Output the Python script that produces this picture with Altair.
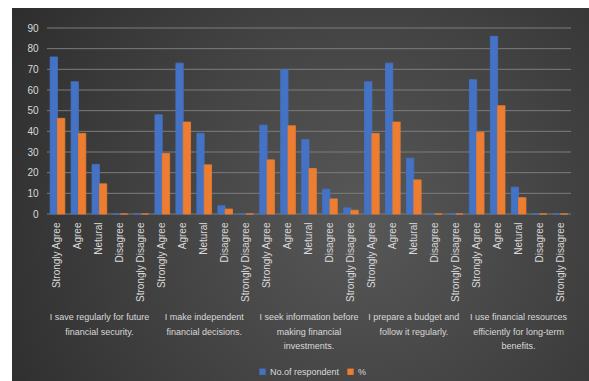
import altair as alt
import pandas as pd

FONT = "Liberation Sans"

groups = [
    "I save regularly for future\nfinancial security.",
    "I make independent\nfinancial decisions.",
    "I seek information before\nmaking financial\ninvestments.",
    "I prepare a budget and\nfollow it regularly.",
    "I use financial resources\nefficiently for long-term\nbenefits.",
]
categories = ["Strongly Agree", "Agree", "Netural", "Disagree", "Strongly Disagree"]
series = ["No.of respondent", "%"]
respondents = [
    [76, 64, 24, 0, 0],
    [48, 73, 39, 4, 0],
    [43, 70, 36, 12, 3],
    [64, 73, 27, 0, 0],
    [65, 86, 13, 0, 0],
]
percent = [
    [46.3, 39.0, 14.6, 0, 0],
    [29.3, 44.5, 23.8, 2.4, 0],
    [26.2, 42.7, 22.0, 7.3, 1.8],
    [39.0, 44.5, 16.5, 0, 0],
    [39.6, 52.4, 7.9, 0, 0],
]
y_ticks = [0, 10, 20, 30, 40, 50, 60, 70, 80, 90]
colors = ["#4472C4", "#ED7D31"]

rows, keys = [], []
for gi, g in enumerate(groups):
    for ci, c in enumerate(categories):
        k = f"{gi}|{c}"
        keys.append(k)
        rows.append({"key": k, "series": series[0], "value": respondents[gi][ci]})
        rows.append({"key": k, "series": series[1], "value": percent[gi][ci]})
df = pd.DataFrame(rows)
glab = pd.DataFrame({"key": [f"{gi}|{categories[2]}" for gi in range(len(groups))],
                     "label": groups})

xscale = alt.Scale(domain=keys, paddingInner=0.3, paddingOuter=0.15)
xaxis = alt.Axis(labelExpr="split(datum.label, '|')[1]", labelAngle=-90, title=None,
                 domain=False, ticks=False, labelPadding=8, labelFontSize=10,
                 labelColor="#d9d9d9", labelFont=FONT, zindex=1)
yscale = alt.Scale(domain=[0, 90])
yaxis = alt.Axis(values=y_ticks, title=None, grid=False, domain=False, ticks=False,
                 labelPadding=9, labelFontSize=10, labelColor="#d9d9d9",
                 labelFont=FONT, zindex=1)

one = pd.DataFrame({"a": [0]})
bg = alt.Chart(one).mark_rect(
    fill=alt.RadialGradient(
        gradient="radial",
        stops=[alt.GradientStop(color="#585858", offset=0),
               alt.GradientStop(color="#262626", offset=1)],
        x1=0.55, y1=0.5, x2=0.55, y2=0.5, r1=0, r2=0.75,
    )
).encode(x=alt.value(-35), x2=alt.value(600), y=alt.value(-20), y2=alt.value(400))

# white page margins at the top and left of the dark panel
margin_left = alt.Chart(one).mark_rect(fill="white").encode(
    x=alt.value(-60), x2=alt.value(-35), y=alt.value(-40), y2=alt.value(400))
margin_top = alt.Chart(one).mark_rect(fill="white").encode(
    x=alt.value(-60), x2=alt.value(600), y=alt.value(-40), y2=alt.value(-20))

grid = alt.Chart(pd.DataFrame({"tick": y_ticks})).mark_rule(
    color="#7c7c7c", strokeWidth=1
).encode(y=alt.Y("tick:Q", scale=yscale, axis=yaxis))

bars = alt.Chart(df).mark_bar(strokeWidth=0.8).encode(
    x=alt.X("key:N", scale=xscale, sort=keys, axis=xaxis),
    xOffset=alt.XOffset("series:N", sort=series, scale=alt.Scale(paddingInner=0)),
    y=alt.Y("value:Q", scale=yscale, axis=yaxis),
    color=alt.Color("series:N", scale=alt.Scale(domain=series, range=colors),
                    legend=alt.Legend(orient="none", legendX=211, legendY=339,
                                      direction="horizontal", title=None,
                                      symbolType="square", symbolSize=40,
                                      symbolStrokeWidth=0, labelFontSize=9,
                                      labelColor="#d9d9d9", labelFont=FONT,
                                      columnPadding=6, labelOffset=3)),
    stroke=alt.Stroke("series:N", scale=alt.Scale(domain=series, range=colors), legend=None),
)

text = alt.Chart(glab).mark_text(
    lineBreak="\n", baseline="top", align="center", fontSize=9,
    color="#d9d9d9", font=FONT, lineHeight=14.5,
).encode(
    x=alt.X("key:N", scale=xscale, sort=keys, axis=xaxis),
    y=alt.value(285),
    text="label:N",
)

chart = alt.layer(bg, margin_left, margin_top, grid, bars, text).properties(
    width=524, height=186, autosize="none",
    padding={"left": 47, "top": 28, "right": 18, "bottom": 167},
    background="#262626",
).configure_view(stroke=None)

chart.save("out.html", embed_options={"renderer": "svg", "actions": False})
